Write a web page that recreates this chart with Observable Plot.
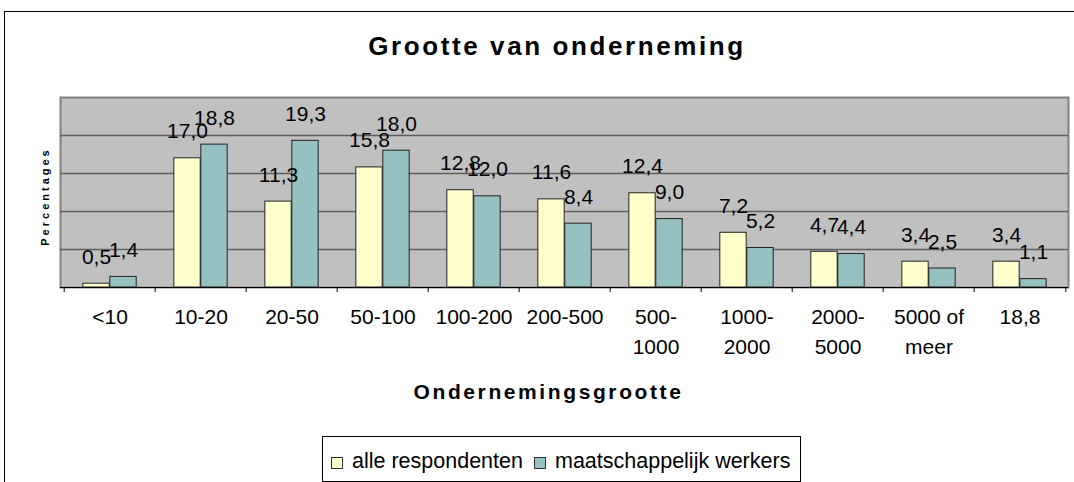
<!DOCTYPE html>
<html>
<head>
<meta charset="utf-8">
<script src="https://cdn.jsdelivr.net/npm/d3@7"></script>
<script src="https://cdn.jsdelivr.net/npm/@observablehq/plot@0.6"></script>
<style>
  html, body { margin: 0; padding: 0; background: #fff; }
  body { width: 1074px; height: 482px; position: relative; overflow: hidden; font-family: "Liberation Sans", Arial, sans-serif; }
  #frame { position: absolute; left: 4px; top: 11px; width: 1080px; height: 480px; border-left: 1px solid #000; border-top: 1px solid #000; }
  #title { position: absolute; left: 557px; top: 31px; transform: translateX(-50%); white-space: nowrap; font-weight: bold; font-size: 26px; letter-spacing: 2.6px; line-height: 30px; }
  #chart { position: absolute; left: 0; top: 0; }
  #legend { position: absolute; left: 322px; top: 436px; width: 477px; height: 44px; border: 1px solid #000; background: #fff; font-size: 21.5px; white-space: nowrap; }
  .item { position: absolute; top: 11px; line-height: 26px; }
  .sw { display: inline-block; width: 10px; height: 10px; border: 1px solid #333; margin-right: 9px; vertical-align: -1px; }
</style>
</head>
<body>
<div id="frame"></div>
<div id="title">Grootte van onderneming</div>
<div id="chart"></div>
<div id="legend"></div>
<script>
const categories = ["<10", "10-20", "20-50", "50-100", "100-200", "200-500", "500-\n1000", "1000-\n2000", "2000-\n5000", "5000 of\nmeer", "18,8"];
const seriesNames = ["alle respondenten", "maatschappelijk werkers"];
const alleRespondenten = [0.5, 17.0, 11.3, 15.8, 12.8, 11.6, 12.4, 7.2, 4.7, 3.4, 3.4];
const maatschappelijkWerkers = [1.4, 18.8, 19.3, 18.0, 12.0, 8.4, 9.0, 5.2, 4.4, 2.5, 1.1];
const gridValues = [5, 10, 15, 20];
const colors = ["#FFFFCC", "#96C1C1"];

const rowsA = categories.map((c, i) => ({cat: c, v: alleRespondenten[i]}));
const rowsB = categories.map((c, i) => ({cat: c, v: maatschappelijkWerkers[i]}));
const fmt = v => v.toFixed(1).replace(".", ",");

const W = 1074, H = 420, mL = 60, mR = 6, mT = 97, mB = 133;
const bw = (W - mL - mR) / categories.length;
const barW = 27;

const chart = Plot.plot({
  width: W, height: H,
  marginTop: mT, marginBottom: mB, marginLeft: mL, marginRight: mR,
  style: {fontFamily: "'Liberation Sans', Arial, sans-serif", fontSize: "21px", background: "transparent", color: "#000"},
  x: {domain: categories, padding: 0, label: null, axis: null},
  y: {domain: [0, 25], axis: null},
  marks: [
    Plot.frame({fill: "#c0c0c0", stroke: "#808080", strokeWidth: 2}),
    Plot.ruleY(gridValues, {stroke: "#5e5e5e", strokeWidth: 1.5}),
    Plot.barY(rowsA, {x: "cat", y: "v", fill: colors[0], stroke: "#222", strokeWidth: 1, insetLeft: bw / 2 - barW, insetRight: bw / 2}),
    Plot.barY(rowsB, {x: "cat", y: "v", fill: colors[1], stroke: "#222", strokeWidth: 1, insetLeft: bw / 2, insetRight: bw / 2 - barW}),
    Plot.ruleY([0], {stroke: "#000", strokeWidth: 1}),
    Plot.ruleX(categories, {x: d => d, dx: -bw / 2, insetTop: H - mT - mB, insetBottom: -5, stroke: "#000"}),
    Plot.ruleX([categories[categories.length - 1]], {x: d => d, dx: bw / 2, insetTop: H - mT - mB, insetBottom: -5, stroke: "#000"}),
    Plot.axisX({tickSize: 0, tickPadding: 15, lineHeight: 1.43, fontSize: 21, label: null}),
    Plot.text(rowsA, {x: "cat", y: "v", text: d => fmt(d.v), dx: -barW / 2, dy: -20, lineAnchor: "bottom", fontSize: 21}),
    Plot.text(rowsB, {x: "cat", y: "v", text: d => fmt(d.v), dx: barW / 2, dy: -20, lineAnchor: "bottom", fontSize: 21}),
    Plot.text(["Ondernemingsgrootte"], {frameAnchor: "bottom", textAnchor: "middle", dx: -16, dy: 111, lineAnchor: "bottom", fontSize: 21, fontWeight: "bold"}),
    Plot.text(["Percentages"], {frameAnchor: "left", textAnchor: "middle", dx: -15, dy: 4, rotate: -90, fontSize: 11, fontWeight: "bold"})
  ]
});
d3.select(chart).selectAll("text").each(function() {
  const t = this.textContent;
  if (t === "Ondernemingsgrootte") this.setAttribute("letter-spacing", "2.6px");
  if (t === "Percentages") this.setAttribute("letter-spacing", "3px");
});
document.getElementById("chart").appendChild(chart);

const legend = document.getElementById("legend");
const lefts = [8, 211];
seriesNames.forEach((name, i) => {
  const it = document.createElement("div");
  it.className = "item";
  it.style.left = lefts[i] + "px";
  const sw = document.createElement("span");
  sw.className = "sw";
  sw.style.background = colors[i];
  it.appendChild(sw);
  it.appendChild(document.createTextNode(name));
  legend.appendChild(it);
});
</script>
</body>
</html>
